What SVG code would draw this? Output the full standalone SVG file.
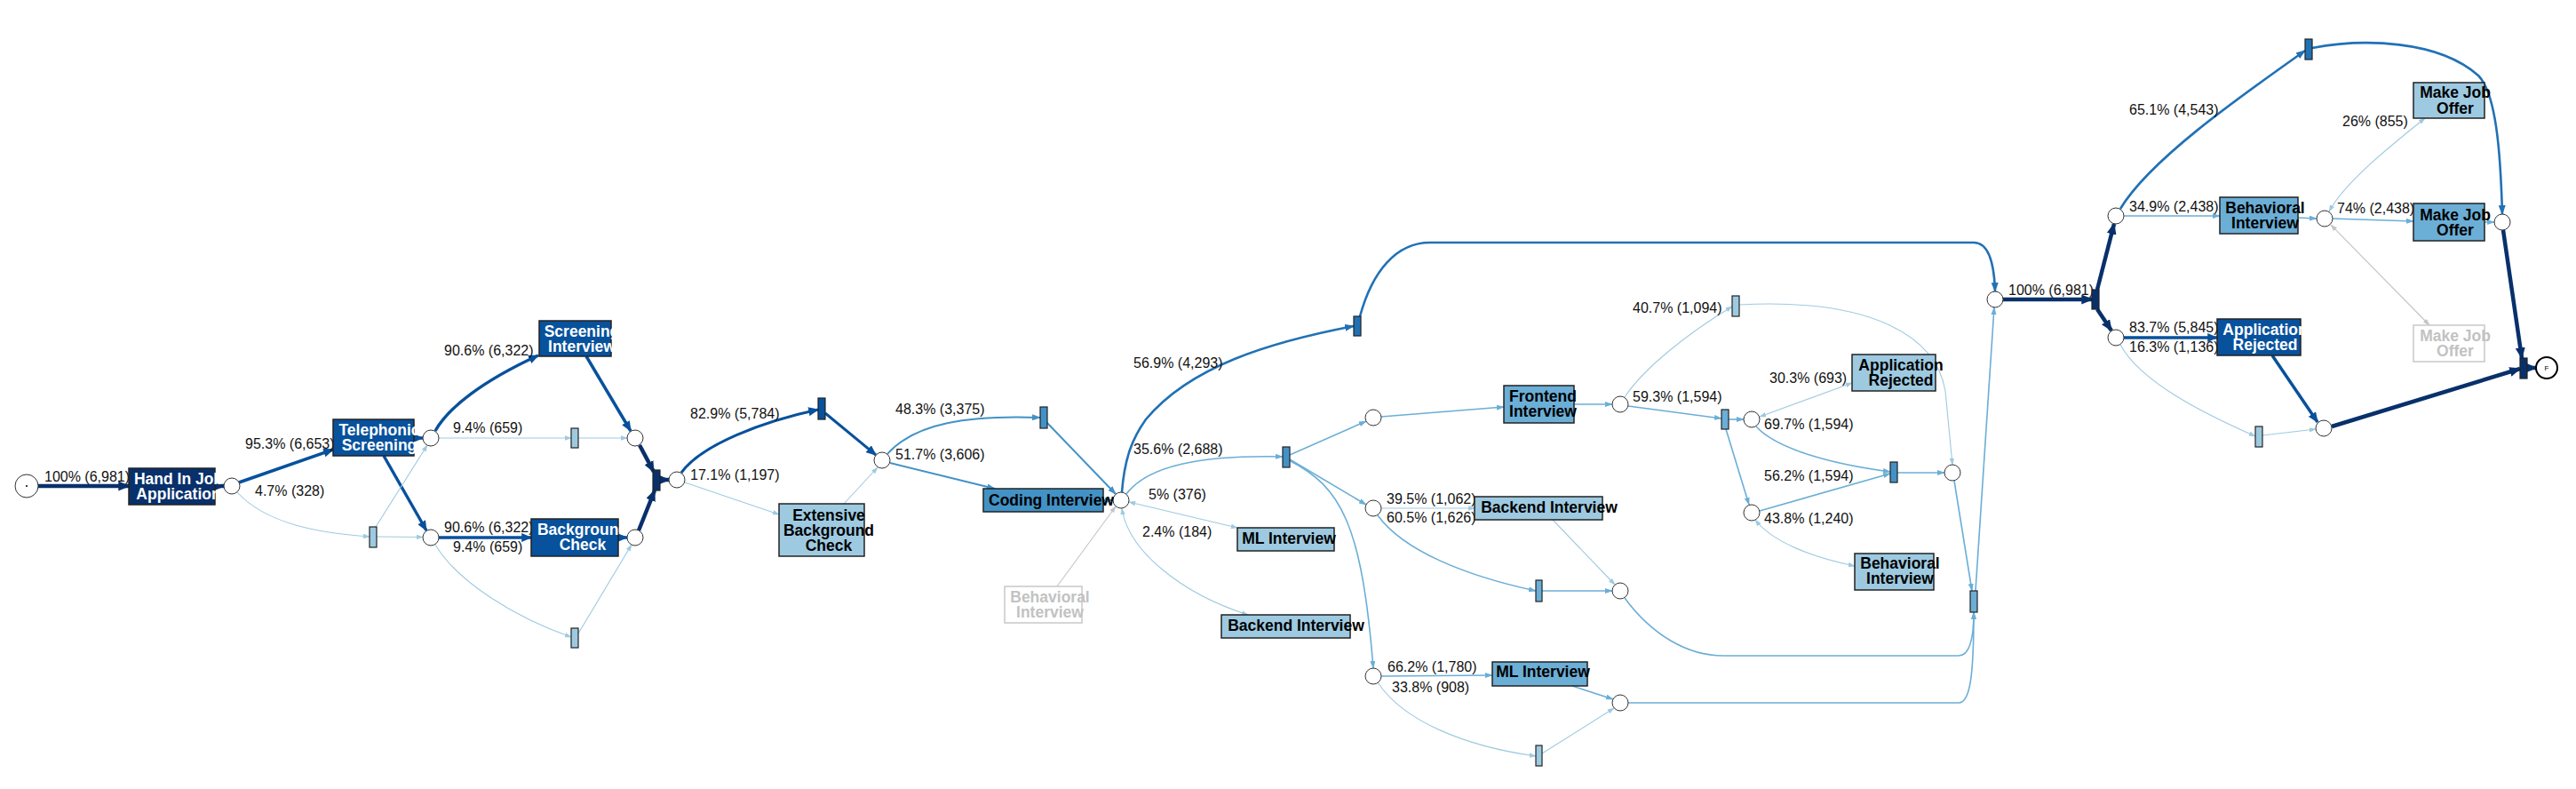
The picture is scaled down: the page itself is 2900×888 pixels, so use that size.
<svg xmlns="http://www.w3.org/2000/svg" width="2900" height="888" viewBox="0 0 2900 888">
<defs>
<style>
.pl{fill:#fff;stroke:#333;stroke-width:1}
.tr{stroke:#222;stroke-width:1.2}
.nd{stroke:#222;stroke-width:1.5}
.gnd{fill:#fff;stroke:#c8c8c8;stroke-width:1.5}
.lb{font-family:"Liberation Sans",Arial,sans-serif;font-size:16px;fill:#111}
.nt{font-family:"Liberation Sans",Arial,sans-serif;font-size:17.5px;font-weight:bold;text-anchor:middle}
.w{fill:#fff}.k{fill:#000}.g{fill:#c2c2c2}
.e{fill:none}
.c0{stroke:#08306b;stroke-width:4.5;marker-end:url(#a0)}
.c1{stroke:#08519c;stroke-width:3.5;marker-end:url(#a1)}
.c1b{stroke:#08519c;stroke-width:3;marker-end:url(#a1)}
.c2{stroke:#2171b5;stroke-width:2.6;marker-end:url(#a2)}
.c3{stroke:#4292c6;stroke-width:2;marker-end:url(#a3)}
.c4{stroke:#6baed6;stroke-width:1.6;marker-end:url(#a4)}
.c5{stroke:#9ecae1;stroke-width:1.1;marker-end:url(#a5)}
.c5b{stroke:#9ecae1;stroke-width:1.1;marker-start:url(#a5);marker-end:url(#a5)}
.cg{stroke:#c4c4c4;stroke-width:1.1;marker-end:url(#ag)}
.cgb{stroke:#c4c4c4;stroke-width:1.1;marker-start:url(#ag);marker-end:url(#ag)}
</style>
<marker id="a0" viewBox="0 0 10 10" preserveAspectRatio="none" markerUnits="userSpaceOnUse" markerWidth="13" markerHeight="11" refX="9" refY="5" orient="auto-start-reverse"><path d="M0,0L10,5L0,10z" fill="#08306b"/></marker>
<marker id="a1" viewBox="0 0 10 10" preserveAspectRatio="none" markerUnits="userSpaceOnUse" markerWidth="12" markerHeight="10" refX="9" refY="5" orient="auto-start-reverse"><path d="M0,0L10,5L0,10z" fill="#08519c"/></marker>
<marker id="a2" viewBox="0 0 10 10" preserveAspectRatio="none" markerUnits="userSpaceOnUse" markerWidth="11" markerHeight="8" refX="9" refY="5" orient="auto-start-reverse"><path d="M0,0L10,5L0,10z" fill="#2171b5"/></marker>
<marker id="a3" viewBox="0 0 10 10" preserveAspectRatio="none" markerUnits="userSpaceOnUse" markerWidth="10" markerHeight="7" refX="9" refY="5" orient="auto-start-reverse"><path d="M0,0L10,5L0,10z" fill="#4292c6"/></marker>
<marker id="a4" viewBox="0 0 10 10" preserveAspectRatio="none" markerUnits="userSpaceOnUse" markerWidth="9" markerHeight="6" refX="9" refY="5" orient="auto-start-reverse"><path d="M0,0L10,5L0,10z" fill="#6baed6"/></marker>
<marker id="a5" viewBox="0 0 10 10" preserveAspectRatio="none" markerUnits="userSpaceOnUse" markerWidth="8" markerHeight="5.5" refX="9" refY="5" orient="auto-start-reverse"><path d="M0,0L10,5L0,10z" fill="#9ecae1"/></marker>
<marker id="ag" viewBox="0 0 10 10" preserveAspectRatio="none" markerUnits="userSpaceOnUse" markerWidth="8" markerHeight="5.5" refX="9" refY="5" orient="auto-start-reverse"><path d="M0,0L10,5L0,10z" fill="#c4c4c4"/></marker>
</defs>
<rect width="2900" height="888" fill="#fff"/>
<g id="connectors" class="e">
<path class="c0" d="M43,547L145,547"/>
<path class="c0" d="M242,547L252,547"/>
<path class="c1" d="M269,543L375,506"/>
<path class="c5" d="M267,554C300,590 360,600 416,604"/>
<path class="c1" d="M466,493L476,493"/>
<path class="c1" d="M432,513L480,597"/>
<path class="c5" d="M424,604L476,604.5"/>
<path class="c5" d="M423,593L481,501"/>
<path class="c1" d="M490,485C505,458 545,428 606,400"/>
<path class="c5" d="M494,493L643,493"/>
<path class="c5" d="M651,493L706,493"/>
<path class="c1" d="M660,401L710,485"/>
<path class="c1" d="M494,605L598,605"/>
<path class="c1" d="M696,605L706,605"/>
<path class="c5" d="M490,613C515,655 580,695 643,717"/>
<path class="c5" d="M651,713L711,613"/>
<path class="c0" d="M720,501L736,531"/>
<path class="c0" d="M719,597L737,552"/>
<path class="c0" d="M743,540L753,540"/>
<path class="c1b" d="M767,532C790,500 860,474 921,461"/>
<path class="c5" d="M771,543L877,579"/>
<path class="c1b" d="M929,465L986,512"/>
<path class="c5" d="M950,567L988,526"/>
<path class="c3" d="M999,511C1030,476 1090,467 1171,470"/>
<path class="c3" d="M1002,521L1120,550"/>
<path class="c3" d="M1178,475L1256,556"/>
<path class="c3" d="M1242,563L1253,563"/>
<path class="c2" d="M1263,554C1266,515 1275,493 1290,472C1340,412 1430,385 1524,367"/>
<path class="c2" d="M1531,356C1545,305 1572,273 1610,273L2222,273C2238,273 2245,295 2246,328"/>
<path class="c4" d="M1268,556C1292,524 1352,512 1444,514"/>
<path class="c5b" d="M1271,565L1393,594"/>
<path class="c5b" d="M1263,572C1270,620 1330,668 1405,692"/>
<path class="cg" d="M1190,660L1256,570"/>
<path class="c4" d="M1452,512L1538,474"/>
<path class="c4" d="M1452,517L1538,568"/>
<path class="c4" d="M1451,518C1510,548 1533,590 1546,752"/>
<path class="c4" d="M1555,469L1693,458"/>
<path class="c4" d="M1772,455L1815,455"/>
<path class="c4" d="M1833,457L1938,471"/>
<path class="c5" d="M1829,447C1850,415 1900,375 1950,345"/>
<path class="c5" d="M1958,343C2110,335 2180,380 2190,440L2198,523"/>
<path class="c4" d="M1946,472L1963,472"/>
<path class="c4" d="M1943,483L1969,568"/>
<path class="c5b" d="M1981,469L2085,431"/>
<path class="c4" d="M1977,480C2000,505 2060,522 2128,531"/>
<path class="c4" d="M1981,575L2128,533"/>
<path class="c4" d="M2136,532L2189,532"/>
<path class="c5b" d="M1976,585C1995,610 2040,627 2088,637"/>
<path class="c4" d="M2200,541L2220,665"/>
<path class="c4" d="M2224,665L2245,346"/>
<path class="c5" d="M1555,572L1660,572"/>
<path class="c4" d="M1551,580C1580,620 1650,648 1729,665"/>
<path class="c4" d="M1736,665L1815,665"/>
<path class="c5" d="M1748,585L1818,658"/>
<path class="c4" d="M1829,673C1860,715 1900,738 1940,738L2205,738C2217,738 2222,720 2222,689"/>
<path class="c4" d="M1555,761L1680,760"/>
<path class="c5" d="M1551,768C1580,812 1650,840 1729,851"/>
<path class="c4" d="M1770,772L1816,787"/>
<path class="c5" d="M1736,848L1817,797"/>
<path class="c4" d="M1833,791L2205,791C2218,791 2222,760 2222,689"/>
<path class="c0" d="M2255,337L2355,337"/>
<path class="c0" d="M2361,326L2380,252"/>
<path class="c0" d="M2361,348L2377,372"/>
<path class="c2" d="M2387,235C2420,180 2520,110 2595,57"/>
<path class="c4" d="M2391,243L2499,243"/>
<path class="c4" d="M2587,245L2608,246"/>
<path class="c1" d="M2391,380L2496,380"/>
<path class="c5" d="M2387,388C2410,430 2480,465 2539,491"/>
<path class="c1" d="M2558,400L2609,475"/>
<path class="c5" d="M2547,490L2607,483"/>
<path class="c5b" d="M2622,238C2640,205 2690,165 2730,133"/>
<path class="c4" d="M2626,246L2717,249"/>
<path class="c4" d="M2797,250L2808,250"/>
<path class="cgb" d="M2624,253L2735,366"/>
<path class="c2" d="M2603,54C2660,43 2745,45 2790,85C2810,105 2815,170 2817,241"/>
<path class="c0" d="M2818,259L2839,403"/>
<path class="c0" d="M2625,480L2837,415"/>
<path class="c0" d="M2845,414L2855,414"/>
</g>
<g id="labels" class="lb">
<text x="50" y="542">100% (6,981)</text>
<text x="276" y="505">95.3% (6,653)</text>
<text x="287" y="558">4.7% (328)</text>
<text x="500" y="400">90.6% (6,322)</text>
<text x="510" y="487">9.4% (659)</text>
<text x="500" y="599">90.6% (6,322)</text>
<text x="510" y="621">9.4% (659)</text>
<text x="777" y="471">82.9% (5,784)</text>
<text x="777" y="540">17.1% (1,197)</text>
<text x="1008" y="466">48.3% (3,375)</text>
<text x="1008" y="517">51.7% (3,606)</text>
<text x="1276" y="414">56.9% (4,293)</text>
<text x="1276" y="511">35.6% (2,688)</text>
<text x="1293" y="562">5% (376)</text>
<text x="1286" y="604">2.4% (184)</text>
<text x="1561" y="567">39.5% (1,062)</text>
<text x="1561" y="588">60.5% (1,626)</text>
<text x="1838" y="452">59.3% (1,594)</text>
<text x="1838" y="352">40.7% (1,094)</text>
<text x="1992" y="431">30.3% (693)</text>
<text x="1986" y="483">69.7% (1,594)</text>
<text x="1986" y="541">56.2% (1,594)</text>
<text x="1986" y="589">43.8% (1,240)</text>
<text x="1562" y="756">66.2% (1,780)</text>
<text x="1567" y="779">33.8% (908)</text>
<text x="2261" y="332">100% (6,981)</text>
<text x="2397" y="129">65.1% (4,543)</text>
<text x="2397" y="238">34.9% (2,438)</text>
<text x="2397" y="374">83.7% (5,845)</text>
<text x="2397" y="396">16.3% (1,136)</text>
<text x="2637" y="142">26% (855)</text>
<text x="2631" y="240">74% (2,438)</text>
</g>
<g id="places">
<g id="start"><circle class="pl" cx="30" cy="547" r="13"/><circle cx="30" cy="547" r="1" fill="#000"/></g>
<circle id="p1" class="pl" cx="261" cy="547" r="9"/>
<circle id="p2" class="pl" cx="485" cy="493" r="9"/>
<circle id="p3" class="pl" cx="485" cy="605" r="9"/>
<circle id="p4" class="pl" cx="715" cy="493" r="9"/>
<circle id="p5" class="pl" cx="715" cy="605" r="9"/>
<circle id="p6" class="pl" cx="762" cy="540" r="9"/>
<circle id="p7" class="pl" cx="993" cy="518" r="9"/>
<circle id="p8" class="pl" cx="1262" cy="563" r="9"/>
<circle id="p9" class="pl" cx="1546" cy="470" r="9"/>
<circle id="p10" class="pl" cx="1546" cy="572" r="9"/>
<circle id="p11" class="pl" cx="1546" cy="761" r="9"/>
<circle id="p12" class="pl" cx="1824" cy="455" r="9"/>
<circle id="p13" class="pl" cx="2198" cy="532" r="9"/>
<circle id="p14" class="pl" cx="1972" cy="472" r="9"/>
<circle id="p15" class="pl" cx="1972" cy="577" r="9"/>
<circle id="p16" class="pl" cx="1824" cy="665" r="9"/>
<circle id="p17" class="pl" cx="1824" cy="791" r="9"/>
<circle id="ptop" class="pl" cx="2246" cy="337" r="9"/>
<circle id="p18" class="pl" cx="2382" cy="243" r="9"/>
<circle id="p19" class="pl" cx="2382" cy="380" r="9"/>
<circle id="p20" class="pl" cx="2617" cy="246" r="9"/>
<circle id="p21" class="pl" cx="2616" cy="482" r="9"/>
<circle id="p22" class="pl" cx="2817" cy="250" r="9"/>
<g id="end"><circle cx="2867" cy="414" r="12" fill="#fff" stroke="#000" stroke-width="2"/><text x="2867" y="417" font-family="Liberation Sans, Arial, sans-serif" font-size="8" text-anchor="middle">F</text></g>
</g>
<g id="transitions" class="tr">
<rect id="t1" x="416" y="593" width="8" height="23" fill="#9ecae1"/>
<rect id="t2" x="643" y="482" width="8" height="22" fill="#9ecae1"/>
<rect id="t3" x="643" y="707" width="8" height="22" fill="#9ecae1"/>
<rect id="j1" x="735" y="529" width="8" height="23" fill="#08306b"/>
<rect id="t4" x="921" y="448" width="8" height="24" fill="#08519c"/>
<rect id="t5" x="1171" y="458" width="8" height="24" fill="#4292c6"/>
<rect id="t6" x="1524" y="356" width="8" height="22" fill="#2171b5"/>
<rect id="t7" x="1444" y="503" width="8" height="23" fill="#4292c6"/>
<rect id="t8" x="1938" y="461" width="8" height="22" fill="#6baed6"/>
<rect id="t9" x="1950" y="333" width="8" height="23" fill="#9ecae1"/>
<rect id="t10" x="2128" y="520" width="8" height="23" fill="#4292c6"/>
<rect id="t11" x="2218" y="665" width="8" height="24" fill="#6baed6"/>
<rect id="t12" x="1729" y="653" width="7" height="24" fill="#6baed6"/>
<rect id="t13" x="1729" y="839" width="7" height="23" fill="#9ecae1"/>
<rect id="t14" x="2355" y="326" width="8" height="22" fill="#08306b"/>
<rect id="t15" x="2595" y="44" width="8" height="23" fill="#2171b5"/>
<rect id="t16" x="2539" y="480" width="8" height="23" fill="#9ecae1"/>
<rect id="tf" x="2837" y="403" width="8" height="23" fill="#08306b"/>
</g>
<g id="n-hand-in"><rect class="nd" x="145" y="527" width="97" height="41" fill="#08306b"/><text class="nt w" x="201"><tspan x="201" y="545">Hand In Job</tspan><tspan x="201" y="562">Application</tspan></text></g>
<g id="n-telephonic"><rect class="nd" x="375" y="472" width="91" height="41" fill="#08519c"/><text class="nt w"><tspan x="427" y="490">Telephonic</tspan><tspan x="427" y="507">Screening</tspan></text></g>
<g id="n-screening"><rect class="nd" x="607" y="361" width="81" height="40" fill="#08519c"/><text class="nt w"><tspan x="655" y="379">Screening</tspan><tspan x="655" y="396">Interview</tspan></text></g>
<g id="n-background"><rect class="nd" x="598" y="584" width="98" height="42" fill="#08519c"/><text class="nt w"><tspan x="656" y="602">Background</tspan><tspan x="656" y="619">Check</tspan></text></g>
<g id="n-extensive"><rect class="nd" x="877" y="567" width="96" height="59" fill="#9ecae1"/><text class="nt k"><tspan x="933" y="585.5">Extensive</tspan><tspan x="933" y="602.5">Background</tspan><tspan x="933" y="619.5">Check</tspan></text></g>
<g id="n-coding"><rect class="nd" x="1107" y="550" width="135" height="26" fill="#4292c6"/><text class="nt k" x="1183.5" y="569">Coding Interview</text></g>
<g id="n-behavioral-gray"><rect class="gnd" x="1131" y="660" width="87" height="41"/><text class="nt g"><tspan x="1182" y="678">Behavioral</tspan><tspan x="1182" y="695">Interview</tspan></text></g>
<g id="n-ml-1"><rect class="nd" x="1393" y="594" width="109" height="26" fill="#9ecae1"/><text class="nt k" x="1451" y="612">ML Interview</text></g>
<g id="n-backend-1"><rect class="nd" x="1375" y="692" width="145" height="26" fill="#9ecae1"/><text class="nt k" x="1459" y="710">Backend Interview</text></g>
<g id="n-frontend"><rect class="nd" x="1693" y="434" width="79" height="42" fill="#6baed6"/><text class="nt k"><tspan x="1737" y="452">Frontend</tspan><tspan x="1737" y="469">Interview</tspan></text></g>
<g id="n-backend-2"><rect class="nd" x="1660" y="559" width="144" height="26" fill="#9ecae1"/><text class="nt k" x="1744" y="577">Backend Interview</text></g>
<g id="n-ml-2"><rect class="nd" x="1680" y="745" width="107" height="27" fill="#6baed6"/><text class="nt k" x="1737" y="762">ML Interview</text></g>
<g id="n-rejected-1"><rect class="nd" x="2085" y="399" width="94" height="41" fill="#9ecae1"/><text class="nt k"><tspan x="2140" y="417">Application</tspan><tspan x="2140" y="434">Rejected</tspan></text></g>
<g id="n-behavioral-1"><rect class="nd" x="2088" y="623" width="89" height="41" fill="#9ecae1"/><text class="nt k"><tspan x="2139" y="640">Behavioral</tspan><tspan x="2139" y="657">Interview</tspan></text></g>
<g id="n-behavioral-2"><rect class="nd" x="2499" y="222" width="88" height="41" fill="#6baed6"/><text class="nt k"><tspan x="2550" y="240">Behavioral</tspan><tspan x="2550" y="257">Interview</tspan></text></g>
<g id="n-rejected-2"><rect class="nd" x="2496" y="359" width="94" height="41" fill="#08519c"/><text class="nt w"><tspan x="2550" y="377">Application</tspan><tspan x="2550" y="394">Rejected</tspan></text></g>
<g id="n-offer-1"><rect class="nd" x="2717" y="93" width="80" height="40" fill="#9ecae1"/><text class="nt k"><tspan x="2764" y="110">Make Job</tspan><tspan x="2764" y="128">Offer</tspan></text></g>
<g id="n-offer-2"><rect class="nd" x="2717" y="229" width="80" height="42" fill="#6baed6"/><text class="nt k"><tspan x="2764" y="247.5">Make Job</tspan><tspan x="2764" y="264.5">Offer</tspan></text></g>
<g id="n-offer-gray"><rect class="gnd" x="2717" y="366" width="80" height="41"/><text class="nt g"><tspan x="2764" y="384">Make Job</tspan><tspan x="2764" y="401">Offer</tspan></text></g>
</svg>
